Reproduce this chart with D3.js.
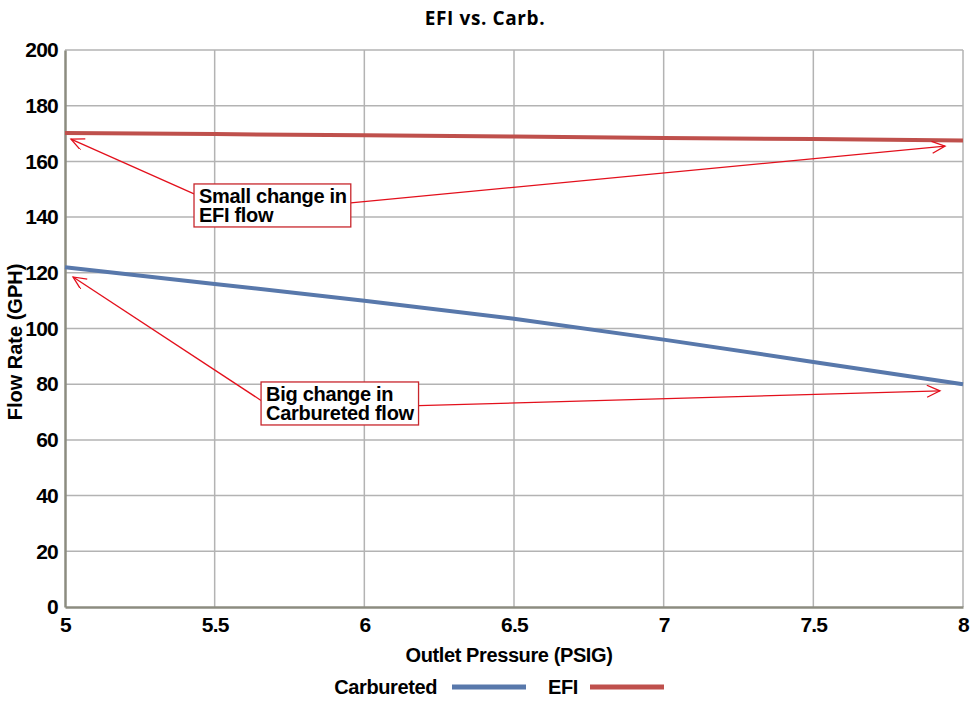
<!DOCTYPE html>
<html>
<head>
<meta charset="utf-8">
<script src="https://cdn.jsdelivr.net/npm/d3@7"></script>
<style>
  body { margin: 0; background: #fff; }
  text { font-family: "Liberation Sans", Arial, sans-serif; }
</style>
</head>
<body>
<svg id="chart" width="979" height="708"></svg>
<script>
// pressure points (PSIG)
var pressure = [5, 5.5, 6, 6.5, 7, 7.5, 8];
// flow rates (GPH)
var carbFlow = [122, 116, 110, 103.5, 96, 88, 80];
var efiFlow  = [170.2, 169.8, 169.4, 168.9, 168.4, 168, 167.5];
var seriesNames = ['Carbureted', 'EFI'];
var xTicks = [5, 5.5, 6, 6.5, 7, 7.5, 8];
var yTicks = [0, 20, 40, 60, 80, 100, 120, 140, 160, 180, 200];

// callouts: box corner and arrow tips in data units
var noteText = [['Small change in', 'EFI flow'], ['Big change in', 'Carbureted flow']];
var noteBox  = [[5.431, 151.9], [5.655, 80.8]];
var noteTipL = [[5.02, 168.0], [5.027, 118.5]];
var noteTipR = [[7.94, 165.5], [7.923, 77.6]];

var colors = {Carbureted: '#5878ab', EFI: '#bf504c'};

var svg = d3.select('#chart');
var plotL = 65, plotR = 963, plotT = 50, plotB = 607;

var x = d3.scaleLinear().domain([5, 8]).range([plotL, plotR]);
var y = d3.scaleLinear().domain([0, 200]).range([plotB, plotT]);

svg.append('text')
  .attr('x', 485).attr('y', 25)
  .attr('text-anchor', 'middle')
  .style('font-family', '"Open Sans", "Noto Sans", sans-serif')
  .style('font-weight', 'bold').style('font-size', '19px')
  .style('letter-spacing', '0.6px')
  .text('EFI vs. Carb.');

// grid
var grid = svg.append('g').attr('stroke', '#b3b3b3').attr('stroke-width', 1.5);
grid.selectAll('line.h').data(yTicks.slice(1)).enter().append('line')
  .attr('x1', plotL).attr('x2', plotR)
  .attr('y1', function(d) { return y(d); }).attr('y2', function(d) { return y(d); });
grid.selectAll('line.v').data(xTicks.slice(1)).enter().append('line')
  .attr('y1', plotT).attr('y2', plotB)
  .attr('x1', function(d) { return x(d); }).attr('x2', function(d) { return x(d); });

// axes
var yAxis = svg.append('g').attr('transform', 'translate(' + plotL + ',0)')
  .call(d3.axisLeft(y).tickValues(yTicks).tickSize(0).tickPadding(7));
var xAxis = svg.append('g').attr('transform', 'translate(0,' + plotB + ')')
  .call(d3.axisBottom(x).tickValues(xTicks).tickSize(0).tickPadding(10)
        .tickFormat(function(d) { return d; }));
[yAxis, xAxis].forEach(function(a) {
  a.select('.domain').attr('stroke', '#8c8c80').attr('stroke-width', 2.5);
  a.selectAll('text').attr('fill', '#000')
    .style('font-family', '"Liberation Sans", Arial, sans-serif')
    .style('font-weight', 'bold').style('font-size', '21px')
    .style('letter-spacing', '-0.8px');
});

// axis titles
svg.append('text')
  .attr('transform', 'translate(22,342) rotate(-90)')
  .attr('text-anchor', 'middle')
  .style('font-weight', 'bold').style('font-size', '20px')
  .text('Flow Rate (GPH)');
svg.append('text')
  .attr('x', 509).attr('y', 662)
  .attr('text-anchor', 'middle')
  .style('font-weight', 'bold').style('font-size', '20px')
  .style('letter-spacing', '-0.4px')
  .text('Outlet Pressure (PSIG)');

// series lines
var line = d3.line()
  .x(function(d) { return x(d[0]); })
  .y(function(d) { return y(d[1]); });
var series = [
  {name: 'Carbureted', values: d3.zip(pressure, carbFlow)},
  {name: 'EFI', values: d3.zip(pressure, efiFlow)}
];
svg.selectAll('path.series').data(series).enter().append('path')
  .attr('class', 'series')
  .attr('fill', 'none')
  .attr('stroke', function(d) { return colors[d.name]; })
  .attr('stroke-width', 4)
  .attr('d', function(d) { return line(d.values); });

// arrow head
svg.append('defs').append('marker')
  .attr('id', 'head')
  .attr('markerUnits', 'userSpaceOnUse')
  .attr('markerWidth', 16).attr('markerHeight', 14)
  .attr('refX', 14).attr('refY', 6)
  .attr('orient', 'auto')
  .append('path')
  .attr('d', 'M1,0 L14,6 L1,12')
  .attr('fill', 'none').attr('stroke', '#e3101c').attr('stroke-width', 1.3);

// callouts
var arrowLayer = svg.append('g');
var boxLayer = svg.append('g');
var startFrac = [[0.23, 0.44], [0.43, 0.55]];
noteText.forEach(function(lines, i) {
  var bx = x(noteBox[i][0]), by = y(noteBox[i][1]);
  var g = boxLayer.append('g');
  var rect = g.append('rect').attr('fill', '#fff')
    .attr('stroke', '#c8262c').attr('stroke-width', 1.3);
  var t = g.append('text')
    .style('font-weight', 'bold').style('font-size', '20px')
    .style('letter-spacing', '-0.3px');
  lines.forEach(function(s, j) {
    t.append('tspan').attr('x', bx + 5).attr('y', by + 19 + j * 19).text(s);
  });
  var bb = t.node().getBBox();
  var w = bb.width + 9, h = 43;
  rect.attr('x', bx).attr('y', by).attr('width', w).attr('height', h);
  var arrows = [
    [bx, by + h * startFrac[i][0], noteTipL[i]],
    [bx + w, by + h * startFrac[i][1], noteTipR[i]]
  ];
  arrows.forEach(function(a) {
    arrowLayer.append('line')
      .attr('x1', a[0]).attr('y1', a[1])
      .attr('x2', x(a[2][0])).attr('y2', y(a[2][1]))
      .attr('stroke', '#e3101c').attr('stroke-width', 1.3)
      .attr('marker-end', 'url(#head)');
  });
});

// legend
var legend = svg.append('g');
var lx = [437, 578];
var lineStart = [452, 590];
seriesNames.forEach(function(n, i) {
  legend.append('text')
    .attr('x', lx[i]).attr('y', 694)
    .attr('text-anchor', 'end')
    .style('font-weight', 'bold').style('font-size', '20px')
    .style('letter-spacing', '-0.4px')
    .text(n);
  legend.append('line')
    .attr('x1', lineStart[i]).attr('x2', lineStart[i] + 74)
    .attr('y1', 687).attr('y2', 687)
    .attr('stroke', colors[n]).attr('stroke-width', 5);
});
</script>
</body>
</html>
